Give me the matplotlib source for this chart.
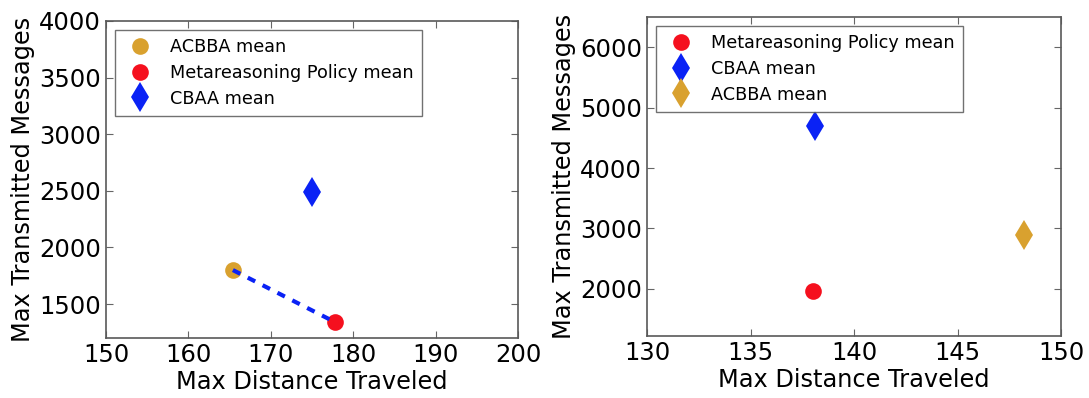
import matplotlib
matplotlib.use("Agg")
import matplotlib.pyplot as plt

# left panel
left_labels = ["ACBBA mean", "Metareasoning Policy mean", "CBAA mean"]
left_x = [165.4, 177.8, 175.0]
left_y = [1800, 1340, 2490]

# right panel
right_labels = ["Metareasoning Policy mean", "CBAA mean", "ACBBA mean"]
right_x = [138.0, 138.1, 148.2]
right_y = [1960, 4690, 2890]

GOLD = "#d9a12f"
RED = "#f5101e"
BLUE = "#0a22f5"


def style_axes(ax):
    ax.tick_params(direction="in", top=True, right=True, labelsize=17.5, length=5, color="0.4")
    for s in ax.spines.values():
        s.set_color("0.35")
        s.set_linewidth(1.2)
    ax.set_xlabel("Max Distance Traveled", fontsize=17.3, labelpad=2)
    ax.set_ylabel("Max Transmitted Messages", fontsize=17.3, labelpad=3)


def add_legend(ax):
    leg = ax.legend(loc="upper left", numpoints=1, fontsize=12.7, fancybox=False, borderpad=0.45,
                    handletextpad=0.7, borderaxespad=0.5, labelspacing=0.45)
    leg.get_frame().set_edgecolor("0.3")
    leg.get_frame().set_linewidth(1.0)


fig = plt.figure(figsize=(10.89, 3.98), dpi=100)
ax1 = fig.add_axes([106 / 1089, 1 - 338 / 398, 412 / 1089, 317 / 398])
ax2 = fig.add_axes([647 / 1089, 1 - 336 / 398, 414 / 1089, 319 / 398])

# left
ax1.plot(left_x[0], left_y[0], "o", color=GOLD, markersize=12, markeredgewidth=0, label=left_labels[0])
ax1.plot(left_x[1], left_y[1], "o", color=RED, markersize=12, markeredgewidth=0, label=left_labels[1])
ax1.plot(left_x[2], left_y[2], "d", color=BLUE, markersize=15, markeredgewidth=0, label=left_labels[2])
ax1.plot(left_x[:2], left_y[:2], linestyle="--", color=BLUE, linewidth=3, dashes=(2, 2))
ax1.set_xlim(150, 200)
ax1.set_ylim(1200, 4000)
ax1.set_xticks([150, 160, 170, 180, 190, 200])
ax1.set_yticks([1500, 2000, 2500, 3000, 3500, 4000])
style_axes(ax1)
add_legend(ax1)

# right
ax2.plot(right_x[0], right_y[0], "o", color=RED, markersize=12, markeredgewidth=0, label=right_labels[0])
ax2.plot(right_x[1], right_y[1], "d", color=BLUE, markersize=15, markeredgewidth=0, label=right_labels[1])
ax2.plot(right_x[2], right_y[2], "d", color=GOLD, markersize=15, markeredgewidth=0, label=right_labels[2])
ax2.set_xlim(130, 150)
ax2.set_ylim(1220, 6500)
ax2.set_xticks([130, 135, 140, 145, 150])
ax2.set_yticks([2000, 3000, 4000, 5000, 6000])
style_axes(ax2)
add_legend(ax2)

fig.savefig("out.png", dpi=100)
